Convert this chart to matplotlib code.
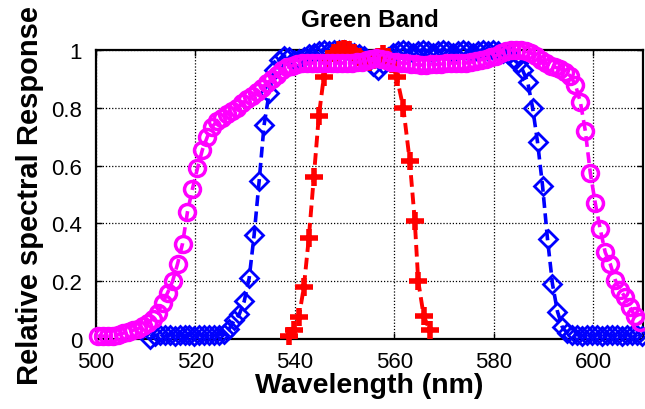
import matplotlib
matplotlib.use("Agg")
import matplotlib.pyplot as plt
import numpy as np

# ---------------- data ----------------
blue_start = 510.8
blue_vals = [0.0, 0.012, 0.015, 0.013, 0.015, 0.012, 0.015, 0.013, 0.015, 0.012,
             0.015, 0.013, 0.015, 0.013, 0.015, 0.018, 0.035, 0.065, 0.085, 0.13,
             0.21, 0.36, 0.545, 0.74, 0.85, 0.93, 0.965, 0.98, 0.975, 0.965,
             0.97, 0.975, 0.985, 0.99, 0.995, 1.0, 0.995, 1.0, 1.0, 1.0,
             0.995, 0.99, 0.985, 0.98, 0.965, 0.945, 0.93, 0.95, 0.975, 0.99,
             0.995, 1.0, 0.995, 0.99, 0.995, 1.0, 0.995, 0.99, 0.995, 1.0,
             0.995, 0.99, 0.995, 1.0, 0.995, 0.99, 0.995, 1.0, 0.995, 1.0,
             0.995, 0.99, 0.985, 0.97, 0.955, 0.93, 0.89, 0.80, 0.68, 0.53,
             0.345, 0.19, 0.095, 0.04, 0.02, 0.013, 0.015, 0.012, 0.015, 0.013,
             0.015, 0.012, 0.015, 0.013, 0.015, 0.012, 0.015, 0.013, 0.015, 0.012]

red_wl = [538.8, 539.8, 540.8, 541.8, 542.8, 543.8, 544.8, 545.8,
          546.8, 547.8, 548.8, 549.8, 550.8, 551.8, 552.8, 553.8, 554.8,
          555.8, 556.8, 557.8, 558.8,
          559.6, 560.5, 561.8, 563.1, 564.1, 564.8, 565.9, 567.1]
red_vals = [0.01, 0.03, 0.075, 0.18, 0.35, 0.56, 0.77, 0.905,
            0.97, 0.99, 1.0, 1.005, 1.0, 0.99, 0.975, 0.965, 0.96,
            0.965, 0.975, 0.985, 0.975,
            0.95, 0.905, 0.80, 0.615, 0.41, 0.20, 0.08, 0.03]

magenta_start = 500.4
magenta_vals = [0.01, 0.01, 0.01, 0.012, 0.015, 0.02, 0.024, 0.03, 0.035, 0.045,
                0.055, 0.07, 0.09, 0.125, 0.16, 0.20, 0.26, 0.33, 0.44, 0.52,
                0.59, 0.655, 0.70, 0.735, 0.755, 0.765, 0.78, 0.79, 0.80, 0.815,
                0.83, 0.84, 0.855, 0.87, 0.885, 0.90, 0.915, 0.93, 0.94, 0.945,
                0.95, 0.955, 0.955, 0.955, 0.955, 0.955, 0.955, 0.955, 0.955, 0.955,
                0.955, 0.955, 0.958, 0.96, 0.965, 0.97, 0.972, 0.97, 0.965, 0.96,
                0.96, 0.955, 0.955, 0.95, 0.95, 0.948, 0.948, 0.95, 0.95, 0.952,
                0.955, 0.955, 0.955, 0.955, 0.955, 0.958, 0.962, 0.966, 0.97, 0.975,
                0.98, 0.99, 0.995, 1.0, 1.0, 1.0, 0.995, 0.99, 0.98, 0.965,
                0.955, 0.945, 0.94, 0.935, 0.925, 0.91, 0.88, 0.82, 0.72, 0.575,
                0.47, 0.38, 0.30, 0.26, 0.205, 0.17, 0.145, 0.11, 0.078, 0.058]

xticks = [500, 520, 540, 560, 580, 600]
yticks = [0, 0.2, 0.4, 0.6, 0.8, 1.0]
ytick_labels = ['0', '0.2', '0.4', '0.6', '0.8', '1']
title = 'Green Band'
xlabel = 'Wavelength (nm)'
ylabel = 'Relative spectral Response'

blue_wl = blue_start + np.arange(len(blue_vals))
magenta_wl = magenta_start + np.arange(len(magenta_vals))

# ---------------- figure ----------------
plt.rcParams['font.family'] = ['Liberation Sans', 'DejaVu Sans']
fig = plt.figure(figsize=(6.45, 4.10), dpi=100)
ax = fig.add_axes([96 / 645, 70 / 410, 547 / 645, 289 / 410])

ax.plot(blue_wl, blue_vals, color='#0000ff', lw=2.6, dashes=(3.0, 1.5),
        marker='D', ms=9.5, mfc='none', mec='#0000ff', mew=2.0,
        clip_on=False, zorder=3)
ax.plot(red_wl, red_vals, color='#ff0000', lw=2.8, dashes=(3.0, 1.5),
        marker='+', ms=13, mec='#ff0000', mew=4.0,
        clip_on=False, zorder=4)
ax.plot(magenta_wl, magenta_vals, color='#ff00ff', lw=2.6, dashes=(3.0, 1.5),
        marker='o', ms=11.5, mfc='none', mec='#ff00ff', mew=2.5,
        clip_on=False, zorder=5)

ax.set_xlim(500, 610)
ax.set_ylim(0, 1)
ax.set_xticks(xticks)
ax.set_yticks(yticks)
ax.set_yticklabels(ytick_labels)
ax.grid(True, color='black', linestyle=(0, (1, 1.5)), linewidth=0.9)
ax.set_axisbelow(True)
ax.tick_params(direction='in', length=4, width=1, top=True, right=True,
               labelsize=16)
ax.tick_params(axis='x', pad=9)
ax.tick_params(axis='y', pad=10)
for s in ax.spines.values():
    s.set_linewidth(1.6)
    s.set_zorder(2)

ax.set_title(title, fontsize=17.5, pad=17, fontweight='bold')
ax.set_xlabel(xlabel, fontsize=20.5, labelpad=0, fontweight='bold')
ax.set_ylabel(ylabel, fontsize=21, labelpad=5, fontweight='bold')

fig.savefig('out.png', dpi=100)
